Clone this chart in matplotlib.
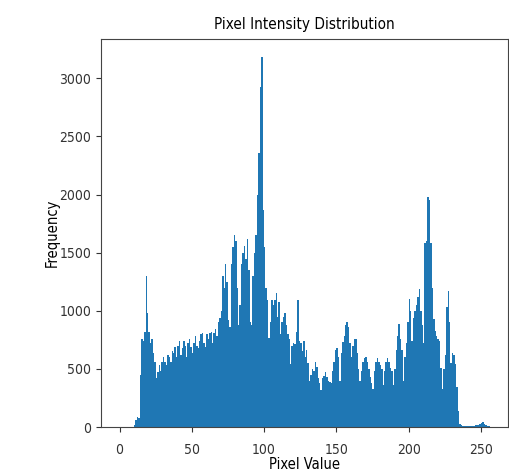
import numpy as np
import matplotlib
matplotlib.use("Agg")
import matplotlib.pyplot as plt

# histogram counts per pixel value (0..255)
counts_0_49 = [0, 0, 0, 0, 0, 0, 0, 0, 0, 0,
               20, 60, 90, 80, 450, 760, 740, 820, 1300, 980,
               820, 720, 760, 640, 560, 420, 470, 530, 480, 560,
               600, 560, 530, 620, 600, 560, 650, 640, 690, 600,
               700, 740, 620, 680, 740, 700, 600, 720, 760, 690]
counts_50_99 = [640, 720, 780, 700, 680, 740, 800, 810, 720, 690,
                800, 760, 810, 820, 720, 810, 840, 780, 900, 940,
                1000, 1300, 1200, 1400, 1250, 920, 860, 1400, 1550, 1650,
                1600, 1200, 880, 1050, 1400, 1500, 1560, 1450, 1620, 1350,
                900, 880, 1300, 1500, 1650, 2000, 2360, 2930, 3180, 1870]
counts_100_149 = [1550, 1200, 1090, 770, 900, 1090, 1050, 1090, 1150, 950,
                  1080, 800, 900, 950, 980, 880, 800, 760, 545, 700,
                  720, 710, 820, 1090, 740, 720, 650, 740, 600, 660,
                  550, 400, 450, 500, 480, 560, 520, 420, 380, 320,
                  420, 440, 470, 430, 400, 390, 380, 480, 560, 660]
counts_150_199 = [680, 600, 400, 640, 730, 780, 880, 900, 860, 720,
                  600, 700, 760, 760, 640, 500, 400, 480, 560, 590,
                  600, 560, 500, 430, 380, 330, 480, 560, 590, 560,
                  530, 500, 360, 480, 560, 590, 560, 510, 480, 360,
                  500, 660, 780, 890, 760, 660, 400, 600, 720, 900]
counts_200_255 = [1100, 1000, 740, 940, 1000, 1050, 1120, 1190, 1000, 880,
                  720, 1580, 1600, 1980, 1950, 1580, 1200, 930, 830, 780,
                  760, 740, 510, 330, 500, 620, 1030, 1170, 900, 550,
                  640, 620, 540, 340, 140, 30, 15, 10, 12, 10,
                  8, 10, 12, 8, 10, 12, 15, 18, 20, 25,
                  35, 40, 30, 20, 8, 5]

counts = np.array(counts_0_49 + counts_50_99 + counts_100_149
                  + counts_150_199 + counts_200_255)
pixel_values = np.arange(256)

fig = plt.figure(figsize=(5.09, 4.73), dpi=100)
ax = fig.add_axes([101 / 509, 46 / 473, 407 / 509, 388 / 473])

ax.hist(pixel_values, bins=256, range=(0, 256), weights=counts, color="#1f77b4")

ax.set_xticks([0, 50, 100, 150, 200, 250])
ax.set_yticks([0, 500, 1000, 1500, 2000, 2500, 3000])
ax.tick_params(labelsize=10, colors="#333333")
ax.tick_params(axis="x", pad=8)
for lab in ax.get_xticklabels() + ax.get_yticklabels():
    lab.set_fontstretch("condensed")
for s in ax.spines.values():
    s.set_color("#444444")

ax.set_title("Pixel Intensity Distribution", fontsize=11, fontstretch="condensed", pad=7)
ax.set_xlabel("Pixel Value", fontsize=10.5, fontstretch="condensed", labelpad=0)
ax.set_ylabel("Frequency", fontsize=10.5, fontstretch="condensed", labelpad=0)

fig.savefig("out.png", dpi=100)
